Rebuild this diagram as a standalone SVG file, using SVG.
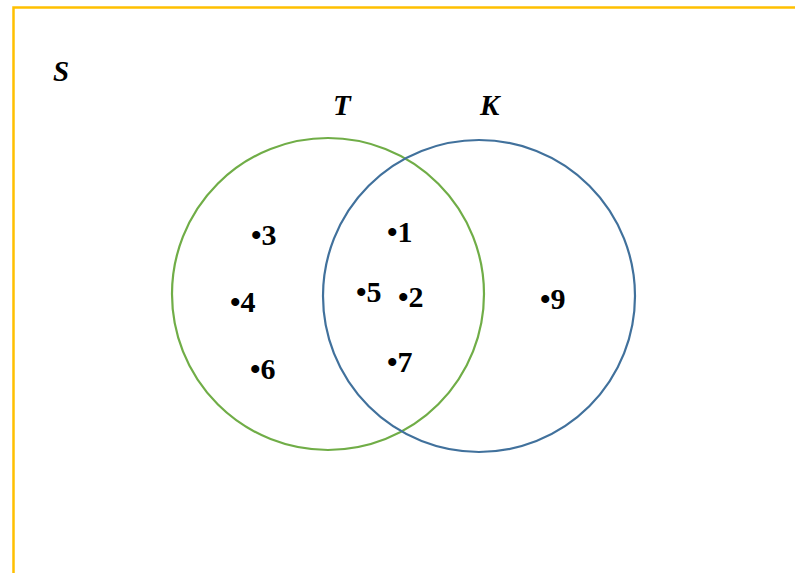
<svg xmlns="http://www.w3.org/2000/svg" width="795" height="573" viewBox="0 0 795 573">
<style>
.lbl{font-family:'Liberation Serif','Times New Roman',serif;font-weight:700;font-size:30px;fill:#000}
.set{font-family:'Liberation Serif','Times New Roman',serif;font-weight:700;font-style:italic;font-size:29px;fill:#000}
</style>
<rect x="0" y="0" width="795" height="573" fill="#fff"/>
<g id="S">
<rect x="13.5" y="7.5" width="800" height="600" fill="none" stroke="#FFC000" stroke-width="2.5"/>
<text class="set" x="53" y="81">S</text>
</g>
<g id="T">
<circle cx="328" cy="294" r="156" fill="none" stroke="#70AD47" stroke-width="2.2"/>
<text class="set" x="333" y="115">T</text>
</g>
<g id="K">
<circle cx="479" cy="296" r="156" fill="none" stroke="#41719C" stroke-width="2.2"/>
<text class="set" x="480" y="115">K</text>
</g>
<g id="elements">
<text class="lbl" x="251" y="245">•3</text>
<text class="lbl" x="387" y="242">•1</text>
<text class="lbl" x="230" y="311.5">•4</text>
<text class="lbl" x="356" y="301.5">•5</text>
<text class="lbl" x="398" y="306.5">•2</text>
<text class="lbl" x="387" y="371.5">•7</text>
<text class="lbl" x="250" y="378.5">•6</text>
<text class="lbl" x="540" y="309">•9</text>
</g>
<g id="connectors"/>
</svg>
